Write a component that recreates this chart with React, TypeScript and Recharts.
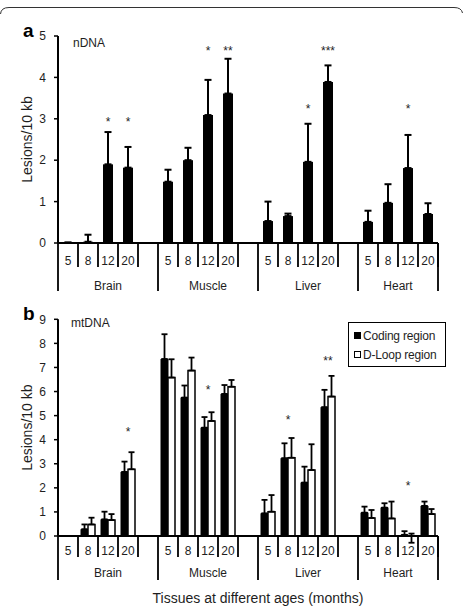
import { ComposedChart, Bar, ErrorBar, Scatter, XAxis, YAxis, Legend } from 'recharts';

const FONT = '"Liberation Sans", Arial, sans-serif';
const INK = '#1e1e1e';

const tissues = ['Brain', 'Muscle', 'Liver', 'Heart'];
const ages = ['5', '8', '12', '20'];

// nDNA lesions, tissue by tissue, ages 5/8/12/20 months
const nDnaMean = [0.01, 0.03, 1.9, 1.82, 1.48, 2.0, 3.09, 3.61, 0.53, 0.65, 1.96, 3.89, 0.51, 0.97, 1.81, 0.7];
const nDnaErr = [0, 0.17, 0.78, 0.5, 0.29, 0.3, 0.85, 0.84, 0.47, 0.06, 0.92, 0.4, 0.27, 0.45, 0.8, 0.26];
const nDnaStars = ['', '', '*', '*', '', '', '*', '**', '', '', '*', '***', '', '', '*', ''];
const nDnaStarY = [null, null, 3.0, 3.0, null, null, 4.7, 4.7, null, null, 3.3, 4.7, null, null, 3.3, null];

// mtDNA lesions, coding region vs D-loop region
const codingMean = [0, 0.28, 0.69, 2.66, 7.35, 5.75, 4.5, 5.9, 0.94, 3.23, 2.22, 5.35, 0.97, 1.18, 0.05, 1.25];
const codingErr = [0, 0.2, 0.32, 0.43, 1.03, 0.5, 0.44, 0.37, 0.56, 0.62, 0.66, 0.72, 0.25, 0.18, 0.15, 0.18];
const dloopMean = [0, 0.48, 0.66, 2.77, 6.58, 6.87, 4.78, 6.2, 1.01, 3.25, 2.74, 5.79, 0.75, 0.73, -0.28, 0.91];
const dloopErr = [0, 0.28, 0.25, 0.71, 0.76, 0.54, 0.36, 0.28, 0.69, 0.82, 1.07, 0.86, 0.33, 0.7, 0.38, 0.21];
const mtStars = ['', '', '', '*', '', '', '*', '', '', '*', '', '**', '', '', '*', ''];
const mtStarY = [null, null, null, 4.45, null, null, 6.18, null, null, 4.93, null, 7.38, null, null, 2.19, null];

const nDnaTicks = [0, 1, 2, 3, 4, 5];
const mtTicks = [0, 1, 2, 3, 4, 5, 6, 7, 8, 9];

type Row = { key: string; tissue: string; age: string; ageIndex: number; [k: string]: any };

// one slot per tissue/age, with an empty slot between tissues
function buildRows(fields: Record<string, (number | string | null)[]>): Row[] {
  const rows: Row[] = [];
  tissues.forEach((tissue, t) => {
    ages.forEach((age, a) => {
      const i = t * ages.length + a;
      const row: Row = { key: `${tissue}-${age}`, tissue, age, ageIndex: a };
      Object.keys(fields).forEach((f) => {
        row[f] = fields[f][i];
      });
      rows.push(row);
    });
    if (t < tissues.length - 1) rows.push({ key: `gap-${t}`, tissue: '', age: '', ageIndex: -1 });
  });
  return rows;
}

const rowsA = buildRows({ mean: nDnaMean, star: nDnaStars, starY: nDnaStarY }).map((r) => ({
  ...r,
  err: r.ageIndex >= 0 ? [0, nDnaErr[tissues.indexOf(r.tissue) * 4 + r.ageIndex]] : null,
}));

const rowsB = buildRows({ coding: codingMean, dloop: dloopMean, star: mtStars, starY: mtStarY }).map((r) => {
  const i = tissues.indexOf(r.tissue) * 4 + r.ageIndex;
  return {
    ...r,
    codingRange: r.ageIndex >= 0 ? [0, codingErr[i]] : null,
    dloopRange: r.ageIndex >= 0 ? [0, dloopErr[i]] : null,
  };
});

const CHART_W = 463;
const PLOT_LEFT = 58;
const PLOT_RIGHT = 25;

function CategoryTick(props: any) {
  const { x, y, payload, rows, ageDy, shortLen, longLen, groupDy } = props;
  const slot = (CHART_W - PLOT_LEFT - PLOT_RIGHT) / rows.length;
  const i = rows.findIndex((r: Row) => r.key === payload.value);
  const row = rows[i];
  if (!row) return null;
  const left = x - slot / 2;
  const right = x + slot / 2;
  const parts: any[] = [];
  if (row.age) {
    parts.push(
      <text key="age" x={x} y={y + ageDy} textAnchor="middle" fontSize={12} fill={INK} fontFamily={FONT}>
        {row.age}
      </text>,
    );
    parts.push(<line key="s" x1={right} x2={right} y1={y} y2={y + shortLen} stroke="#000" strokeWidth={1.8} />);
  }
  if (row.ageIndex === 0) {
    let next = rows.findIndex((r: Row, j: number) => j > i && r.ageIndex === 0);
    if (next < 0) next = rows.length;
    const center = left + ((next - i) * slot) / 2;
    parts.push(<line key="l" x1={left} x2={left} y1={y} y2={y + longLen} stroke="#000" strokeWidth={1.8} />);
    parts.push(
      <text key="g" x={center} y={y + groupDy} textAnchor="middle" fontSize={12} fill={INK} fontFamily={FONT}>
        {row.tissue}
      </text>,
    );
  }
  if (i === rows.length - 1) {
    parts.push(<line key="e" x1={right} x2={right} y1={y} y2={y + longLen} stroke="#000" strokeWidth={1.8} />);
  }
  return <g>{parts}</g>;
}

function YTitle({ viewBox }: any) {
  const cx = 27;
  const cy = viewBox.y + viewBox.height / 2;
  return (
    <text
      x={cx}
      y={cy}
      transform={`rotate(-90 ${cx} ${cy})`}
      textAnchor="middle"
      dominantBaseline="central"
      fontSize={14}
      fill={INK}
      fontFamily={FONT}
    >
      Lesions/10 kb
    </text>
  );
}

function XTitle({ viewBox }: any) {
  return (
    <text x={viewBox.x + viewBox.width / 2 + 10} y={viewBox.y + 67} textAnchor="middle" fontSize={14} fill={INK} fontFamily={FONT}>
      Tissues at different ages (months)
    </text>
  );
}

// significance asterisks, placed at their own height above the bars
function StarMark(props: any) {
  const { cx, cy, payload } = props;
  if (!payload || !payload.star || cy == null || isNaN(cy)) return <g />;
  return (
    <text x={cx} y={Math.round(cy + 7)} textAnchor="middle" fontSize={12} fill={INK} stroke="none" fontFamily={FONT}>
      {payload.star}
    </text>
  );
}

function LegendBox({ payload }: any) {
  const items = (payload || []).filter((p: any) => p.dataKey === 'coding' || p.dataKey === 'dloop');
  return (
    <div
      style={{
        boxSizing: 'border-box',
        width: 98,
        height: 45,
        border: '1.5px solid #000',
        padding: '3px 0 0 5px',
        fontFamily: FONT,
        fontSize: 12,
        color: INK,
        background: '#fff',
      }}
    >
      {items.map((p: any) => (
        <div key={p.dataKey} style={{ display: 'flex', alignItems: 'center', height: 19 }}>
          <span
            style={{
              display: 'inline-block',
              boxSizing: 'border-box',
              width: 7,
              height: 7,
              marginRight: 2,
              background: p.dataKey === 'coding' ? '#000' : '#fff',
              border: '1.5px solid #000',
            }}
          />
          <span style={{ letterSpacing: -0.2 }}>{p.value}</span>
        </div>
      ))}
    </div>
  );
}

const yTick = { fontSize: 12, fill: INK, fontFamily: FONT };

export default function App() {
  return (
    <div style={{ position: 'absolute', left: 0, top: 0, width: 463, height: 611, background: '#fff' }}>
      <div style={{ position: 'absolute', left: 0, top: 0 }}>
        <ComposedChart width={CHART_W} height={295} data={rowsA} margin={{ top: 36, right: PLOT_RIGHT, left: 0, bottom: 0 }} barCategoryGap="25%">
          <XAxis
            dataKey="key"
            interval={0}
            tickLine={false}
            tickSize={0}
            tickMargin={0}
            height={52}
            axisLine={{ stroke: '#000', strokeWidth: 1.8 }}
            tick={<CategoryTick rows={rowsA} ageDy={22} shortLen={24} longLen={48} groupDy={47} />}
          />
          <YAxis
            width={PLOT_LEFT}
            domain={[0, 5]}
            ticks={nDnaTicks}
            interval={0}
            tickSize={4}
            tickMargin={8}
            axisLine={{ stroke: '#000', strokeWidth: 2 }}
            tickLine={{ stroke: '#000', strokeWidth: 1.5 }}
            tick={yTick}
            label={<YTitle />}
          />
          <Bar dataKey="mean" fill="#000" isAnimationActive={false}>
            <ErrorBar dataKey="err" width={3.5} stroke="#000" strokeWidth={2} direction="y" />
          </Bar>
          <Scatter dataKey="starY" fill={INK} shape={<StarMark />} activeShape={<StarMark />} isAnimationActive={false} />
        </ComposedChart>
      </div>
      <div style={{ position: 'absolute', left: 0, top: 295 }}>
        <ComposedChart
          width={CHART_W}
          height={316}
          data={rowsB}
          margin={{ top: 24.3, right: PLOT_RIGHT, left: 0, bottom: 0 }}
          barCategoryGap={3}
          barGap={0}
        >
          <XAxis
            dataKey="key"
            interval={0}
            tickLine={false}
            tickSize={0}
            tickMargin={0}
            height={75}
            axisLine={{ stroke: '#000', strokeWidth: 1.8 }}
            tick={<CategoryTick rows={rowsB} ageDy={19} shortLen={21} longLen={44} groupDy={41} />}
            label={<XTitle />}
          />
          <YAxis
            width={PLOT_LEFT}
            domain={[0, 9]}
            allowDataOverflow
            ticks={mtTicks}
            interval={0}
            tickSize={4}
            tickMargin={8}
            axisLine={{ stroke: '#000', strokeWidth: 2 }}
            tickLine={{ stroke: '#000', strokeWidth: 1.5 }}
            tick={yTick}
            label={<YTitle />}
          />
          <Legend
            layout="vertical"
            align="center"
            verticalAlign="middle"
            wrapperStyle={{ top: 27, left: 348, width: 98, height: 45 }}
            content={<LegendBox />}
          />
          <Bar dataKey="coding" name="Coding region" fill="#000" stroke="#000" strokeWidth={1} isAnimationActive={false}>
            <ErrorBar dataKey="codingRange" width={3} stroke="#000" strokeWidth={1.8} direction="y" />
          </Bar>
          <Bar dataKey="dloop" name="D-Loop region" fill="#fff" stroke="#000" strokeWidth={1.5} isAnimationActive={false}>
            <ErrorBar dataKey="dloopRange" width={3} stroke="#000" strokeWidth={1.8} direction="y" />
          </Bar>
          <Scatter
            dataKey="starY"
            fill={INK}
            legendType="none"
            shape={<StarMark />}
            activeShape={<StarMark />}
            isAnimationActive={false}
          />
        </ComposedChart>
      </div>
      <svg width={463} height={611} style={{ position: 'absolute', left: 0, top: 0, pointerEvents: 'none' }}>
        <path d="M 0.5 14 Q 1 7.5 9 7.5 L 454 7.5 Q 461.5 7.5 462.5 13" fill="none" stroke="#333" strokeWidth={1} />
        <text x={23} y={37} fontSize={19} fontWeight="bold" fill="#000" fontFamily={FONT}>a</text>
        <text x={73} y={47} fontSize={12} fill={INK} fontFamily={FONT}>nDNA</text>
        <text x={23} y={320} fontSize={19} fontWeight="bold" fill="#000" fontFamily={FONT}>b</text>
        <text x={71} y={327} fontSize={12} fill={INK} fontFamily={FONT}>mtDNA</text>
      </svg>
    </div>
  );
}
